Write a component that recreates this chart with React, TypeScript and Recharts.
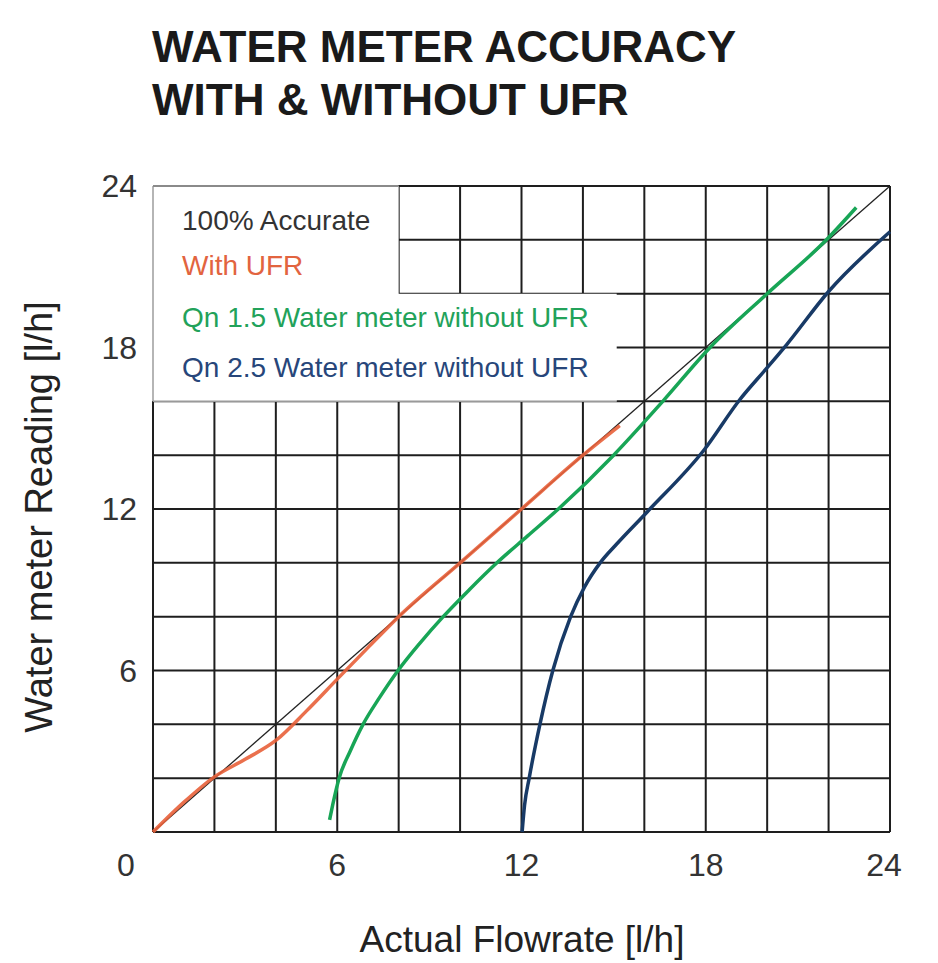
import React from "react";
import {
  CartesianGrid,
  Line,
  LineChart,
  ReferenceArea,
  ReferenceLine,
  XAxis,
  YAxis,
} from "recharts";

const gridTicks = [0, 2, 4, 6, 8, 10, 12, 14, 16, 18, 20, 22, 24];
const labelTicks = [0, 6, 12, 18, 24];

const accurateFlow = [0, 24];
const accurateReading = [0, 24];

const ufrFlow = [0, 1, 2, 3, 4, 5, 6, 7, 8, 10, 12, 14, 15.2];
const ufrReading = [0, 1.1, 2.05, 2.7, 3.4, 4.5, 5.68, 6.85, 8, 10, 12, 14, 15.1];

const qn15Flow = [5.75, 5.85, 6.06, 6.42, 6.84, 7.38, 7.98, 8.68, 9.45, 10.3, 11.2, 12.2, 13.2, 15.0, 16.6, 18.14, 20.0, 21.93, 22.9];
const qn15Reading = [0.45, 1, 2, 3, 4, 5, 6, 7, 8, 9, 10, 11, 12, 14, 16, 18, 20, 22, 23.2];

const qn25Flow = [12.02, 12.1, 12.25, 12.6, 13.02, 13.6, 14.05, 14.56, 15.1, 16.1, 17.95, 19.1, 20.0, 20.63, 22, 24];
const qn25Reading = [0, 1, 2, 4, 6, 8, 9.1, 10, 10.7, 11.9, 14.2, 16.05, 17.25, 18.1, 20.08, 22.3];

const legendItems = [
  { text: "100% Accurate", color: "#333333" },
  { text: "With UFR", color: "#e2643f" },
  { text: "Qn 1.5 Water meter without UFR", color: "#22a25a" },
  { text: "Qn 2.5 Water meter without UFR", color: "#27467a" },
];

const toPoints = (xs: number[], ys: number[]) => xs.map((x, i) => ({ x, y: ys[i] }));

const FONT = '"Liberation Sans", Arial, sans-serif';

function XTick({ x, y, payload }: any) {
  const v = payload.value;
  if (!labelTicks.includes(v)) return null;
  const shift = v === 0 ? -27 : v === 24 ? -6 : 0;
  return (
    <text x={x + shift} y={y + 44} textAnchor="middle" fill="#333" fontSize={32} fontFamily={FONT}>
      {v}
    </text>
  );
}

function YTick({ x, y, payload }: any) {
  const v = payload.value;
  if (v === 0 || !labelTicks.includes(v)) return null;
  return (
    <text x={x} y={y + 11} textAnchor="end" fill="#333" fontSize={32} fontFamily={FONT}>
      {v}
    </text>
  );
}

export default function App() {
  const legendBaselines = [230, 275, 327, 377];
  return (
    <div style={{ position: "absolute", left: 0, top: 0, width: 938, height: 963, background: "#fff" }}>
      <LineChart width={938} height={963} margin={{ top: 186, right: 48, bottom: 71, left: 0 }}>
        <CartesianGrid stroke="#1e1e1e" strokeWidth={2} ticks={gridTicks} />
        <XAxis
          dataKey="x"
          type="number"
          domain={[0, 24]}
          ticks={gridTicks}
          axisLine={false}
          tickLine={false}
          tickSize={0}
          tickMargin={0}
          height={60}
          tick={<XTick />}
          allowDuplicatedCategory={false}
        />
        <YAxis
          dataKey="y"
          type="number"
          domain={[0, 24]}
          ticks={gridTicks}
          axisLine={false}
          tickLine={false}
          tickSize={0}
          tickMargin={16}
          width={153}
          tick={<YTick />}
        />
        <ReferenceArea x1={0} x2={8} y1={19.8} y2={24} fill="#ffffff" fillOpacity={1} stroke="none" ifOverflow="visible" />
        <ReferenceArea x1={0} x2={15.1} y1={16} y2={20} fill="#ffffff" fillOpacity={1} stroke="none" ifOverflow="visible" />
        <ReferenceLine segment={[{ x: 0, y: 16 }, { x: 0, y: 24 }]} stroke="#b5b5b5" strokeWidth={2} />
        <ReferenceLine segment={[{ x: 0, y: 24 }, { x: 8, y: 24 }]} stroke="#8a8a8a" strokeWidth={2} />
        <ReferenceLine segment={[{ x: 0, y: 16 }, { x: 15.1, y: 16 }]} stroke="#9a9a9a" strokeWidth={1.5} />
        <Line
          data={toPoints(accurateFlow, accurateReading)}
          dataKey="y"
          type="linear"
          stroke="#222"
          strokeWidth={1.3}
          dot={false}
          isAnimationActive={false}
        />
        <Line
          data={toPoints(qn15Flow, qn15Reading)}
          dataKey="y"
          type="monotone"
          stroke="#18a556"
          strokeWidth={3.5}
          dot={false}
          isAnimationActive={false}
        />
        <Line
          data={toPoints(qn25Flow, qn25Reading)}
          dataKey="y"
          type="monotone"
          stroke="#183a66"
          strokeWidth={3.5}
          dot={false}
          isAnimationActive={false}
        />
        <Line
          data={toPoints(ufrFlow, ufrReading)}
          dataKey="y"
          type="monotone"
          stroke="#e8603a"
          strokeWidth={3.5}
          strokeOpacity={0.9}
          dot={false}
          isAnimationActive={false}
        />
      </LineChart>
      <svg
        width={938}
        height={963}
        style={{ position: "absolute", left: 0, top: 0, pointerEvents: "none" }}
        fontFamily={FONT}
      >
        <text x={152} y={62} fontSize={44} fontWeight="bold" fill="#1a1a1a">
          WATER METER ACCURACY
        </text>
        <text x={152} y={115} fontSize={44} fontWeight="bold" fill="#1a1a1a">
          WITH &amp; WITHOUT UFR
        </text>
        {legendItems.map((item, i) => (
          <text key={item.text} x={182} y={legendBaselines[i]} fontSize={28} fill={item.color}>
            {item.text}
          </text>
        ))}
        <text
          x={52}
          y={517}
          fontSize={38}
          fill="#222"
          textAnchor="middle"
          transform="rotate(-90 52 517)"
        >
          Water meter Reading [l/h]
        </text>
        <text x={522} y={952} fontSize={37} fill="#222" textAnchor="middle">
          Actual Flowrate [l/h]
        </text>
      </svg>
    </div>
  );
}
